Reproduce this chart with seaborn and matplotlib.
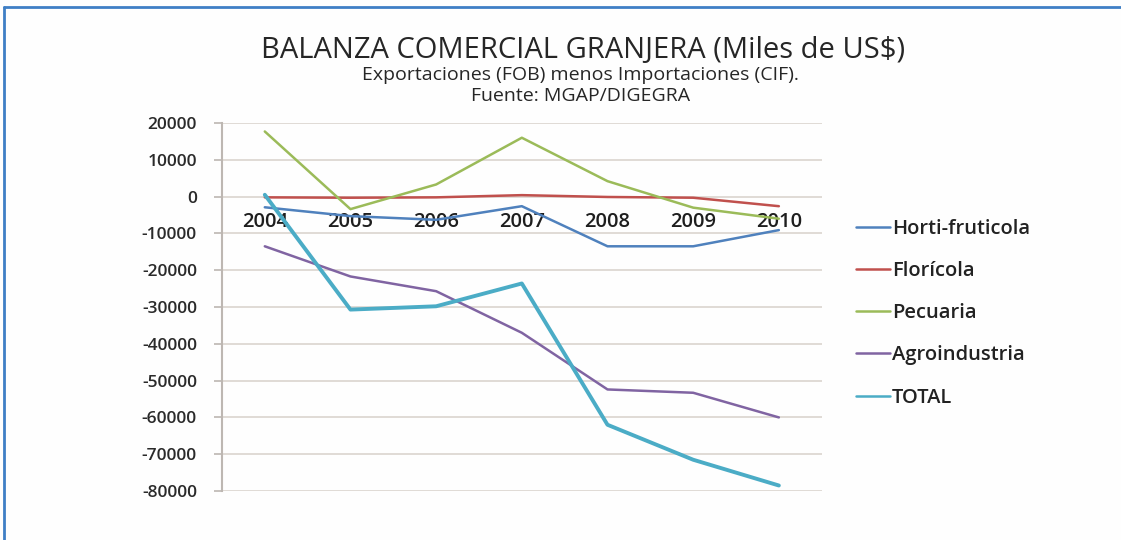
import matplotlib
matplotlib.use("Agg")
import matplotlib.pyplot as plt
from matplotlib.lines import Line2D
import seaborn as sns
import pandas as pd

years = ["2004", "2005", "2006", "2007", "2008", "2009", "2010"]
horti = [-2900, -5300, -6300, -2600, -13500, -13500, -9100]
flori = [-200, -300, -200, 400, -100, -300, -2600]
pecuaria = [17700, -3400, 3300, 16000, 4200, -3000, -6000]
agro = [-13500, -21700, -25700, -37000, -52400, -53300, -60000]
total = [500, -30700, -29800, -23600, -62000, -71500, -78500]

series_names = ["Horti-fruticola", "Florícola", "Pecuaria", "Agroindustria", "TOTAL"]
series_values = [horti, flori, pecuaria, agro, total]
colors = ["#4F81BD", "#C0504D", "#9BBB59", "#8064A2", "#4BACC6"]
widths = [1.8, 1.8, 1.8, 1.8, 2.8]
yticks = list(range(-80000, 20001, 10000))

rows = []
for name, vals in zip(series_names, series_values):
    for i, v in enumerate(vals):
        rows.append({"pos": i, "year": years[i], "serie": name, "valor": v})
df = pd.DataFrame(rows)

sns.set_style("white")
plt.rcParams["font.family"] = ["Open Sans", "DejaVu Sans"]

fig = plt.figure(figsize=(11.21, 5.40), dpi=100)
fig.patch.set_facecolor("#FEFEFE")
ax = fig.add_axes([0.198, 0.0907, 0.535, 0.6815])
ax.set_facecolor("#FEFEFE")

for name, col, lw in zip(series_names, colors, widths):
    sns.lineplot(data=df[df["serie"] == name], x="pos", y="valor", color=col,
                 linewidth=lw, ax=ax, label=name, legend=False)

# axis crossing at zero (must precede tick label styling)
ax.spines["bottom"].set_position(("data", 0))
ax.spines["bottom"].set_visible(False)
ax.spines["top"].set_visible(False)
ax.spines["right"].set_visible(False)
ax.spines["left"].set_color("#BDB7B2")
ax.spines["left"].set_linewidth(1.5)

ax.set_xlim(-0.5, len(years) - 0.5)
ax.set_ylim(yticks[0], yticks[-1])
ax.set_yticks(yticks)
ax.set_yticklabels([str(t) for t in yticks], fontsize=12.5, fontweight="semibold", color="#2A2A2A")
ax.yaxis.grid(True, color="#DAD4CF", linewidth=1.2)
ax.set_axisbelow(True)

ax.set_xticks(range(len(years)))
ax.set_xticklabels(years, fontsize=14.5, fontweight="semibold", color="#1E1E1E")
ax.tick_params(axis="x", length=0, pad=11)
ax.tick_params(axis="y", length=6, color="#BDB7B2", width=1.2, left=True, pad=12)
ax.set_xlabel("")
ax.set_ylabel("")

handles = [Line2D([0], [0], color=c, lw=1.8) for c in colors]
leg = fig.legend(handles, series_names, loc="upper left", bbox_to_anchor=(0.747, 0.628),
                 frameon=False, handlelength=1.7, handletextpad=0.1,
                 labelspacing=1.1, prop={"size": 14.5, "weight": "semibold"})
for t in leg.get_texts():
    t.set_color("#222222")

fig.text(0.520, 0.907, "BALANZA COMERCIAL GRANJERA (Miles de US$)", ha="center", va="center",
         fontsize=21, color="#262626")
fig.text(0.518, 0.862, "Exportaciones (FOB) menos Importaciones (CIF).", ha="center", va="center",
         fontsize=14, color="#262626")
fig.text(0.518, 0.822, "Fuente: MGAP/DIGEGRA", ha="center", va="center",
         fontsize=14, color="#262626")

# frame border (top and left)
fig.add_artist(Line2D([0.004, 1.0], [0.987, 0.987], color="#3F7FC5", lw=2, transform=fig.transFigure))
fig.add_artist(Line2D([0.004, 0.004], [0.0, 0.987], color="#3F7FC5", lw=2, transform=fig.transFigure))

fig.savefig("out.png", dpi=100, facecolor=fig.get_facecolor())
